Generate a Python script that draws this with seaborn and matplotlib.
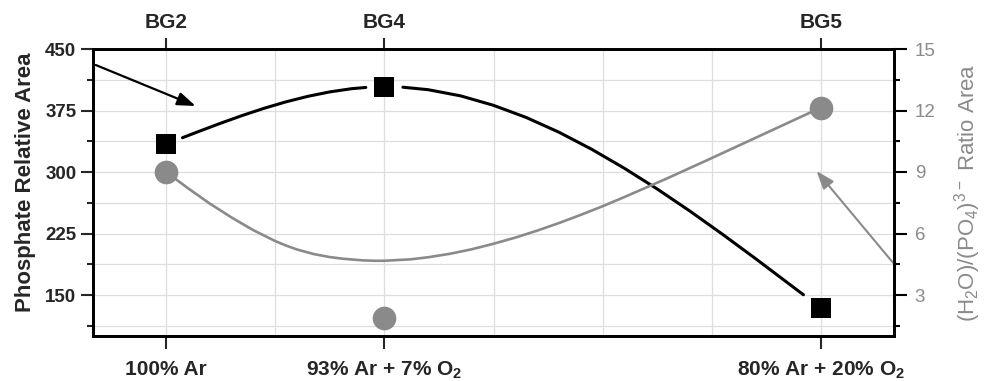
import matplotlib
matplotlib.use("Agg")
import matplotlib.pyplot as plt
import numpy as np
import pandas as pd
import seaborn as sns

# ---------------- data ----------------
samples = ["BG2", "BG4", "BG5"]
conditions = ["100% Ar", "93% Ar + 7% O$_2$", "80% Ar + 20% O$_2$"]
condition_pos = [0, 2, 6]
phosphate_area = [334, 404, 134]          # left axis (black squares)
ratio_area = [9.0, 1.88, 12.14]           # right axis (grey circles)

# smooth connecting curves
phos_curve_x = [0.15, 0.3, 0.5, 0.7, 0.9, 1.1, 1.3, 1.5, 1.7, 1.83,
                2.17, 2.4, 2.7, 3.0, 3.3, 3.6, 3.9, 4.2, 4.5, 4.8, 5.1, 5.4, 5.84]
phos_curve_y = [341.8, 349.5, 359.5, 369.0, 377.8, 385.6, 392.3, 397.7, 401.6, 403.1,
                403.4, 400.4, 392.8, 381.3, 366.5, 348.5, 327.7, 304.5, 279.3, 252.3,
                223.9, 194.5, 150.3]
phos_curve_seg = [0] * 10 + [1] * 13

ratio_curve_x = [0.0, 0.2, 0.4, 0.6, 0.8, 1.0, 1.1, 1.2, 1.35, 1.5, 1.62, 1.8, 1.9,
                 2.0, 2.24, 2.4, 2.6, 2.8, 3.0, 3.2, 3.4, 3.6, 3.8, 4.0, 4.2, 4.6,
                 5.0, 5.5, 6.0]
ratio_curve_y = [9.0, 8.21, 7.46, 6.78, 6.16, 5.63, 5.41, 5.22, 5.00, 4.85, 4.77, 4.69,
                 4.67, 4.67, 4.74, 4.84, 5.01, 5.23, 5.50, 5.80, 6.14, 6.51, 6.91, 7.33,
                 7.78, 8.71, 9.68, 10.91, 12.14]

left_ticks = [150, 225, 300, 375, 450]
left_minor = [112.5, 187.5, 262.5, 337.5, 412.5]
right_ticks = [3, 6, 9, 12, 15]
right_minor = [1.5, 4.5, 7.5, 10.5, 13.5]

GRAY = "#8a8a8a"

sns.set_style("ticks")
plt.rcParams["font.family"] = ["Liberation Sans", "DejaVu Sans"]
plt.rcParams["mathtext.default"] = "regular"

fig = plt.figure(figsize=(9.92, 3.81), dpi=100)
ax = fig.add_axes([93 / 992, 45 / 381, 801 / 992, 287 / 381])
ax2 = ax.twinx()
ax3 = ax.twiny()

# black series (left axis)
phos_df = pd.DataFrame({"x": phos_curve_x, "y": phos_curve_y, "seg": phos_curve_seg})
sns.lineplot(data=phos_df, x="x", y="y", units="seg", estimator=None, sort=False,
             color="black", lw=2.2, ax=ax, legend=False)
sns.scatterplot(x=condition_pos, y=phosphate_area, marker="s", s=228, color="black",
                linewidth=0, ax=ax, zorder=5, legend=False)

# grey series (right axis)
ratio_df = pd.DataFrame({"x": ratio_curve_x, "y": ratio_curve_y})
sns.lineplot(data=ratio_df, x="x", y="y", estimator=None, sort=False,
             color=GRAY, lw=1.9, ax=ax2, legend=False)
sns.scatterplot(x=condition_pos, y=ratio_area, marker="o", s=290, color=GRAY,
                linewidth=0, ax=ax2, zorder=5, legend=False)

# limits
ax.set_xlim(-0.67, 6.67)
ax.set_ylim(100, 450)
ax2.set_ylim(1, 15)
ax3.set_xlim(ax.get_xlim())

# ticks
ax.set_xticks(condition_pos)
ax.set_xticklabels(conditions, fontsize=15, fontweight="bold")
ax.set_xticks(np.arange(0, 7), minor=True)
ax.set_yticks(left_ticks)
ax.set_yticklabels([str(v) for v in left_ticks], fontsize=13.5, fontweight="bold")
ax.set_yticks(left_minor, minor=True)

ax2.set_yticks(right_ticks)
ax2.set_yticklabels([str(v) for v in right_ticks], fontsize=13.5, color=GRAY)
ax2.set_yticks(right_minor, minor=True)

ax3.set_xticks(condition_pos)
ax3.set_xticklabels(samples, fontsize=15, fontweight="bold")
ax3.set_xticks([], minor=True)

ax.tick_params(axis="y", which="major", direction="out", length=9, width=1.5, pad=3,
               left=True, right=False)
ax.tick_params(axis="y", which="minor", direction="out", length=4, width=1.5,
               left=True, right=False)
ax.tick_params(axis="x", which="major", direction="out", length=9, width=1.5, pad=8,
               bottom=True, top=False)
ax.tick_params(axis="x", which="minor", length=0, bottom=False, top=False)
ax2.tick_params(axis="y", which="major", direction="out", length=9, width=1.5, pad=6,
                color="black", labelcolor=GRAY)
ax2.tick_params(axis="y", which="minor", direction="out", length=4, width=1.5, color="black")
ax3.tick_params(axis="x", which="major", direction="out", length=8, width=1.5, pad=4, top=True)

# grid
ax.grid(True, which="both", color="#dedede", lw=0.9)
ax.set_axisbelow(True)
ax2.grid(False)
ax3.grid(False)

for a in (ax, ax2, ax3):
    for sp in a.spines.values():
        sp.set_visible(True)
        sp.set_linewidth(1.8)
        sp.set_color("black")

# labels
ax.set_xlabel("")
ax3.set_xlabel("")
ax.set_ylabel("Phosphate Relative Area", fontsize=16, fontweight="bold")
ax.yaxis.set_label_coords(-0.071, 0.537)
ax2.set_ylabel(r"(H$_2$O)/(PO$_4$)$^{3-}$ Ratio Area", fontsize=16, color=GRAY)
ax2.yaxis.set_label_coords(1.072, 0.5)

# arrows
ax.annotate("", xy=(0.27, 380.5), xytext=(-0.645, 430.5),
            arrowprops=dict(arrowstyle="-|>,head_length=0.55,head_width=0.2",
                            color="black", lw=1.6, shrinkA=0, shrinkB=0,
                            mutation_scale=20),
            annotation_clip=False)
ax2.annotate("", xy=(5.96, 9.05), xytext=(6.66, 4.58),
             arrowprops=dict(arrowstyle="-|>,head_length=0.55,head_width=0.2",
                             color=GRAY, lw=1.5, shrinkA=0, shrinkB=0,
                             mutation_scale=20),
             annotation_clip=False)

fig.savefig("out.png", dpi=100)
